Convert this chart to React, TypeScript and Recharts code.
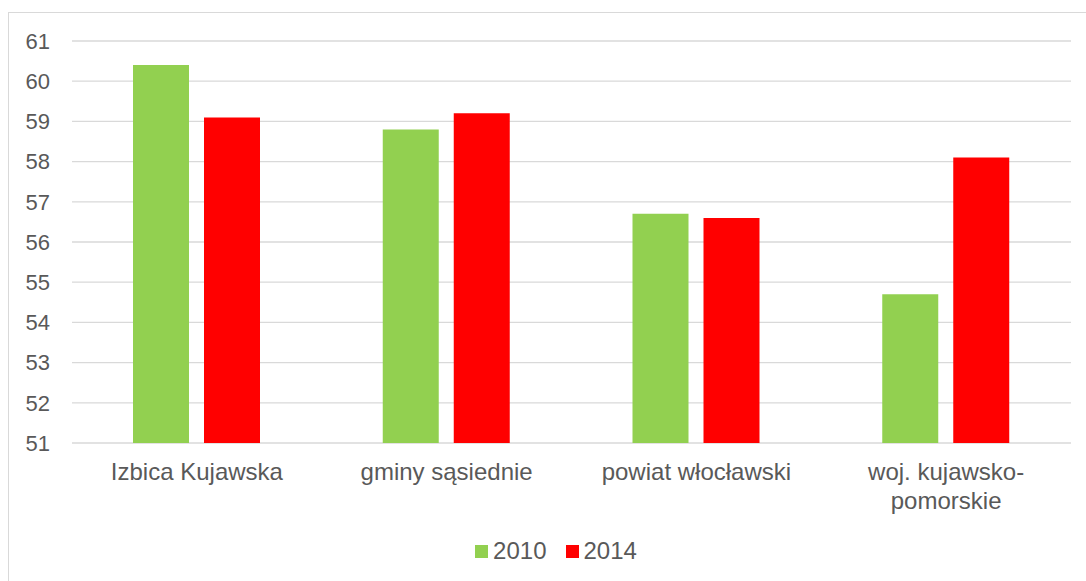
import React from "react";
import { BarChart, Bar, XAxis, YAxis, CartesianGrid, Legend } from "recharts";

const categories = ["Izbica Kujawska", "gminy sąsiednie", "powiat włocławski", "woj. kujawsko-pomorskie"];
const values2010 = [60.4, 58.8, 56.7, 54.7];
const values2014 = [59.1, 59.2, 56.6, 58.1];
const yTicks = [51, 52, 53, 54, 55, 56, 57, 58, 59, 60, 61];

const data = categories.map((name, i) => ({
  name,
  y2010: values2010[i],
  y2014: values2014[i],
}));

const COLORS = {
  green: "#92d050",
  red: "#ff0000",
  text: "#595959",
  grid: "#d9d9d9",
};

const FONT = "'Liberation Sans', Arial, sans-serif";

function CategoryTick(props: any) {
  const { x, y, payload } = props;
  const label: string = payload.value;
  const lines = label.length > 20 ? label.replace(/-(?=\S)/, "-\n").split("\n") : [label];
  return (
    <g transform={`translate(${x},${y})`}>
      {lines.map((line, i) => (
        <text
          key={i}
          x={0}
          y={i * 29}
          dy={29}
          textAnchor="middle"
          fill={COLORS.text}
          fontSize={24}
          fontFamily={FONT}
        >
          {line}
        </text>
      ))}
    </g>
  );
}

function LegendContent(props: any) {
  const items = props.payload || [];
  return (
    <div
      style={{
        display: "flex",
        justifyContent: "center",
        alignItems: "center",
        fontFamily: FONT,
        paddingLeft: 32,
      }}
    >
      {items.map((it: any, i: number) => (
        <div key={i} style={{ display: "flex", alignItems: "center", marginRight: i === items.length - 1 ? 0 : 19 }}>
          <span style={{ width: 13, height: 13, background: it.color, display: "inline-block", marginRight: 5 }} />
          <span style={{ color: COLORS.text, fontSize: 24 }}>{it.value}</span>
        </div>
      ))}
    </div>
  );
}

export default function App() {
  return (
    <div
      style={{
        position: "absolute",
        left: 8,
        top: 12,
        width: 1100,
        height: 600,
        border: `1px solid ${COLORS.grid}`,
        background: "#fff",
      }}
    >
      <BarChart
        width={1078}
        height={568}
        data={data}
        margin={{ top: 28, right: 16, left: 0, bottom: 8 }}
        barSize={56}
        barGap={15}
      >
        <CartesianGrid vertical={false} stroke={COLORS.grid} strokeWidth={1.3} />
        <XAxis
          dataKey="name"
          tickLine={false}
          axisLine={false}
          interval={0}
          height={94}
          tick={<CategoryTick />}
        />
        <YAxis
          domain={[51, 61]}
          ticks={yTicks}
          width={63}
          tickLine={false}
          axisLine={false}
          tickMargin={16}
          interval={0}
          tick={{ fill: COLORS.text, fontSize: 22, fontFamily: FONT }}
        />
        <Legend verticalAlign="bottom" height={36} content={<LegendContent />} />
        <Bar dataKey="y2010" name="2010" fill={COLORS.green} isAnimationActive={false} />
        <Bar dataKey="y2014" name="2014" fill={COLORS.red} isAnimationActive={false} />
      </BarChart>
    </div>
  );
}
